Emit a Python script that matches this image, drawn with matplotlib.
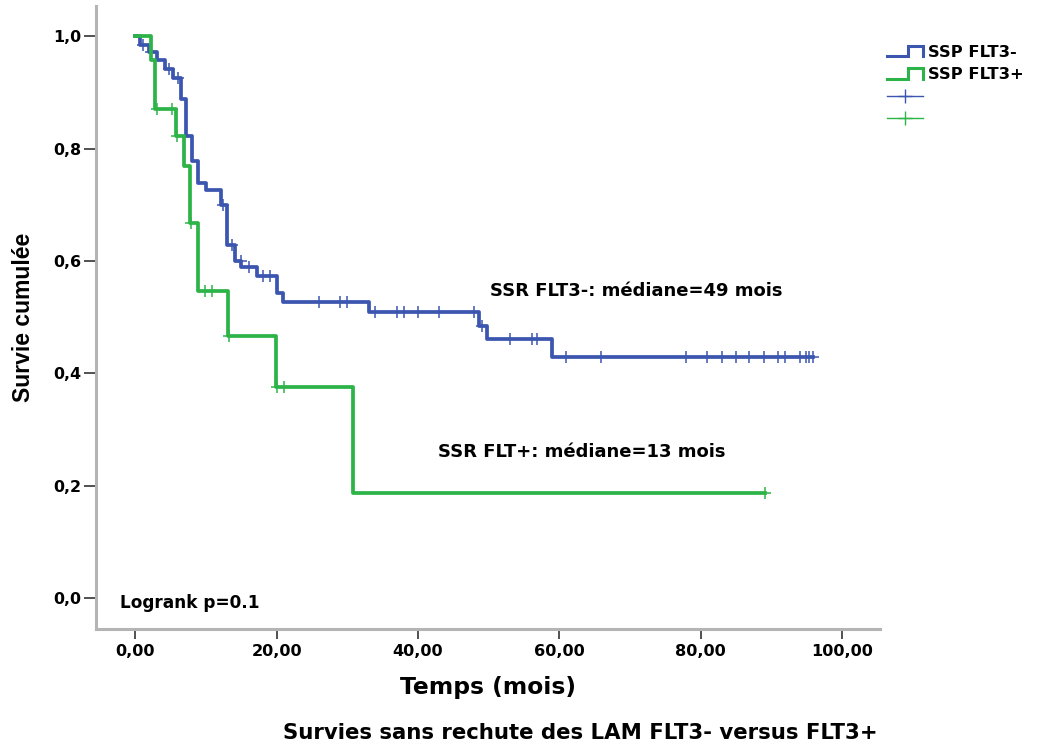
import numpy as np
import matplotlib.pyplot as plt
from matplotlib.lines import Line2D
from matplotlib.legend_handler import HandlerBase

plt.rcParams["font.family"] = ["DejaVu Sans"]
plt.rcParams["font.weight"] = "bold"
plt.rcParams["axes.labelweight"] = "bold"

BLUE = "#3c56b0"
GREEN = "#2db449"

# FLT3- : times of each drop (mois) and survival after the drop
neg_times = [0.0, 0.7, 1.9, 3.0, 4.2, 5.3, 6.4, 7.1, 8.0, 8.9, 10.0, 12.1, 13.0,
             14.1, 15.0, 17.2, 20.0, 20.9, 33.0, 48.7, 49.7, 59.0]
neg_surv = [1.000, 0.985, 0.972, 0.957, 0.941, 0.925, 0.888, 0.822, 0.778, 0.739,
            0.727, 0.700, 0.629, 0.600, 0.589, 0.574, 0.543, 0.527, 0.509, 0.484,
            0.461, 0.429]
neg_censor = [1.0, 2.2, 4.8, 6.0, 12.4, 13.6, 14.9, 16.0, 18.1, 19.0, 26.0, 28.9,
              29.9, 33.9, 37.0, 38.0, 40.0, 43.0, 47.9, 49.0, 53.0, 56.1, 56.9,
              61.0, 65.9, 78.0, 80.9, 83.0, 85.0, 86.9, 89.0, 91.0, 92.0, 94.1,
              94.9, 95.4, 95.9]

# FLT3+
pos_times = [0.0, 2.2, 2.8, 5.8, 6.8, 7.7, 8.8, 13.1, 19.9, 30.8]
pos_surv = [1.000, 0.957, 0.870, 0.822, 0.769, 0.667, 0.546, 0.467, 0.375, 0.187]
pos_censor = [3.1, 5.2, 5.9, 7.9, 9.9, 10.8, 13.2, 20.1, 21.0, 89.1]

x_ticks = [0, 20, 40, 60, 80, 100]
y_ticks = [0.0, 0.2, 0.4, 0.6, 0.8, 1.0]


class StepHandler(HandlerBase):
    # legend glyph drawn as a small step, like SPSS does
    def create_artists(self, legend, orig_handle, xdescent, ydescent,
                       width, height, fontsize, trans):
        x0 = -xdescent
        lo = -ydescent + 0.05 * height
        hi = -ydescent + 0.95 * height
        xs = [x0, x0 + 0.58 * width, x0 + 0.58 * width, x0 + width, x0 + width]
        ys = [lo, lo, hi, hi, lo]
        line = Line2D(xs, ys, color=orig_handle.get_color(), lw=2.2,
                      solid_joinstyle="miter")
        line.set_transform(trans)
        return [line]


def km_curve(ax, times, surv, censor, color):
    end = max(censor[-1], times[-1])
    xs = list(times) + [end]
    ys = list(surv) + [surv[-1]]
    line, = ax.step(xs, ys, where="post", color=color, lw=2.7)
    idx = np.searchsorted(times, censor, side="right") - 1
    cy = np.array(surv)[idx]
    ax.plot(censor, cy, linestyle="none", marker="+", ms=8.5, mew=1.1, color=color)
    return line


fig = plt.figure(figsize=(10.4, 7.49), dpi=100)
ax = fig.add_axes([96 / 1040, 1 - 629 / 749, (880 - 96) / 1040, (629 - 6) / 749])

h_neg = km_curve(ax, neg_times, neg_surv, neg_censor, BLUE)
h_pos = km_curve(ax, pos_times, pos_surv, pos_censor, GREEN)

ax.set_xlim(-5.59, 105.4)
ax.set_ylim(-0.0552, 1.054)

ax.set_xticks(x_ticks)
ax.set_xticklabels([f"{v:.2f}".replace(".", ",") for v in x_ticks])
ax.set_yticks(y_ticks)
ax.set_yticklabels([f"{v:.1f}".replace(".", ",") for v in y_ticks])
ax.tick_params(axis="x", length=7.5, width=1.2, color="#333333", pad=3.5,
               labelsize=11.6)
ax.tick_params(axis="y", length=9, width=1.2, color="#333333", pad=1.8,
               labelsize=11.4)

for side in ["top", "right"]:
    ax.spines[side].set_visible(False)
for side in ["left", "bottom"]:
    ax.spines[side].set_color("#b4b4b4")
    ax.spines[side].set_linewidth(2.2)

ax.set_xlabel("Temps (mois)", fontsize=16.8, fontweight="bold")
ax.xaxis.set_label_coords(0.5, -0.075)
ax.set_ylabel("Survie cumulée", fontsize=16.5, fontweight="bold",
              family=["Liberation Sans", "DejaVu Sans"])
ax.yaxis.set_label_coords(-0.078, 0.5)

ax.text(50.2, 0.547, "SSR FLT3-: médiane=49 mois", fontsize=13, va="center")
ax.text(42.8, 0.26, "SSR FLT+: médiane=13 mois", fontsize=13, va="center")
ax.text(-2.2, -0.009, "Logrank p=0.1", fontsize=12.2, va="center")

fig.text(580 / 1040, 1 - 733 / 749, "Survies sans rechute des LAM FLT3- versus FLT3+",
         fontsize=15.3, ha="center", va="center")

cens_neg = Line2D([], [], color=BLUE, lw=1.0, marker="+", ms=10, mew=1.0)
cens_pos = Line2D([], [], color=GREEN, lw=1.0, marker="+", ms=10, mew=1.0)
fig.legend([h_neg, h_pos, cens_neg, cens_pos],
           ["SSP FLT3-", "SSP FLT3+", "", ""],
           handler_map={h_neg: StepHandler(), h_pos: StepHandler()},
           loc="upper left", bbox_to_anchor=(887 / 1040, 1 - 45 / 749),
           bbox_transform=fig.transFigure, frameon=False, borderpad=0,
           borderaxespad=0, handlelength=2.2, handletextpad=0.3,
           labelspacing=0.44, numpoints=1, fontsize=11.8)

plt.savefig("out.png", dpi=100)
